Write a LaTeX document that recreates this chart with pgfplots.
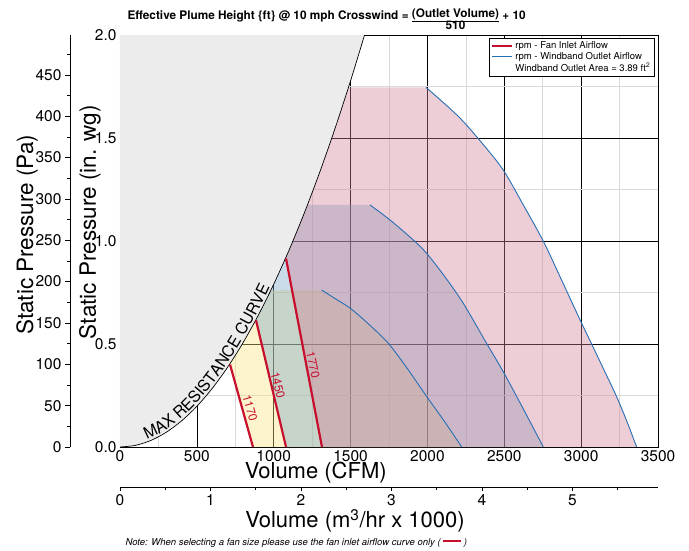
\documentclass[border=0pt]{standalone}
\usepackage{fontspec}
\setmainfont{TeX Gyre Heros}
\usepackage{pgfplots}
\pgfplotsset{compat=1.18}

\definecolor{inletred}{RGB}{200,16,46}
\definecolor{outletblue}{RGB}{38,110,180}
\definecolor{fillA}{RGB}{250,225,127}
\definecolor{fillB}{RGB}{120,165,200}
\definecolor{fillC}{RGB}{210,130,152}
\definecolor{maxgray}{RGB}{236,236,236}

\newcommand{\fs}[1]{\fontsize{#1}{#1}\selectfont}
% one letter of the curve label: angle, volume, pressure, letter
\newcommand{\ml}[4]{\node[rotate=#1, anchor=south, inner xsep=0pt, inner ysep=2pt, font=\fs{16}] at (axis cs:#2,#3) {#4};}

\begin{document}
\begin{tikzpicture}
\useasboundingbox (-120pt,-103pt) rectangle (569pt,447pt);

% Pa scale on the far left
\begin{axis}[
  at={(-50pt,0pt)}, anchor=south west,
  scale only axis, width=10pt, height=412pt,
  xmin=0, xmax=1, ymin=0, ymax=498.18,
  axis x line=none, axis y line*=left,
  ytick={0,50,...,450}, minor ytick={25,75,...,475},
  tick align=outside, major tick length=5pt, minor tick length=3pt,
  tick style={black, line width=0.6pt},
  axis line style={line width=0.8pt},
  yticklabel style={font=\fs{15.5}},
  /pgf/number format/assume math mode=true,
  ylabel={Static Pressure (Pa)},
  ylabel style={font=\fs{22.5}, at={(axis description cs:-4.3,0.515)}, anchor=center},
]
\end{axis}

% main chart
\begin{axis}[
  name=main, at={(0pt,0pt)}, anchor=south west,
  scale only axis, width=538pt, height=412pt,
  xmin=0, xmax=3500, ymin=0, ymax=2,
  xtick={0,500,...,3500}, ytick={0,0.5,1,1.5,2},
  minor xtick={250,750,...,3250}, minor ytick={0.25,0.75,1.25,1.75},
  grid=both,
  major grid style={black, line width=0.7pt},
  minor grid style={gray!30, line width=0.7pt},
  major tick length=0pt, minor tick length=0pt,
  axis line style={black, line width=0.8pt},
  ticklabel style={font=\fs{15.5}},
  /pgf/number format/assume math mode=true,
  /pgf/number format/1000 sep={},
  y tick label style={/pgf/number format/.cd, fixed, fixed zerofill, precision=1},
  xlabel={Volume (CFM)},
  xlabel style={font=\fs{22}, at={(axis description cs:0.364,-0.061)}, anchor=center},
  ylabel={Static Pressure (in. wg)},
  ylabel style={font=\fs{22.5}, at={(axis description cs:-0.0558,0.546)}, anchor=center},
  legend style={at={(0.9926,0.9927)}, anchor=north east, draw=black, fill=white,
    font=\fs{9.5}, inner sep=1.5pt, row sep=-2pt, cells={anchor=west}},
  legend image code/.code={\draw[#1] (0pt,0pt) -- (20pt,0pt);},
]
% windband outlet areas (1170, 1450, 1770 rpm)
\addplot[fill=fillA, fill opacity=0.4, draw=none, forget plot] coordinates {
  (865,0) (716,0.40) (716,0.762) (1312,0.762) (1400,0.72) (1499,0.673) (1620,0.595)
  (1746,0.503) (1870,0.38) (1996,0.244) (2110,0.125) (2223,0)} \closedcycle;
\addplot[fill=fillB, fill opacity=0.4, draw=none, forget plot] coordinates {
  (1080,0) (885,0.615) (885,1.175) (1627,1.175) (1760,1.10) (1908,1.005) (1995,0.94)
  (2110,0.83) (2233,0.698) (2385,0.503) (2493,0.366) (2620,0.19) (2754,0)} \closedcycle;
\addplot[fill=fillC, fill opacity=0.4, draw=none, forget plot] coordinates {
  (1314,0) (1080,0.915) (1080,1.746) (1991,1.746) (2201,1.605) (2350,1.48) (2493,1.345)
  (2620,1.18) (2754,0.999) (2870,0.815) (2993,0.617) (3069,0.499) (3150,0.372)
  (3231,0.244) (3300,0.12) (3361,0)} \closedcycle;

% region beyond max resistance
\addplot[fill=maxgray, draw=none, forget plot] coordinates {
  (0,0) (100,0.0079) (200,0.0316) (300,0.0711) (400,0.1264) (500,0.1975) (600,0.2844)
  (700,0.3871) (800,0.5057) (900,0.64) (1000,0.7901) (1100,0.956) (1200,1.1377)
  (1300,1.3353) (1400,1.5486) (1500,1.7777) (1591,2) (0,2)} -- cycle;
\addplot[black, line width=0.7pt, smooth, forget plot] coordinates {
  (0,0) (100,0.0079) (200,0.0316) (300,0.0711) (400,0.1264) (500,0.1975) (600,0.2844)
  (700,0.3871) (800,0.5057) (900,0.64) (1000,0.7901) (1100,0.956) (1200,1.1377)
  (1300,1.3353) (1400,1.5486) (1500,1.7777) (1591,2)};
\ml{25.0}{220.5}{0.0384}{M}
\ml{31.5}{289.5}{0.0662}{A}
\ml{36.2}{346}{0.0946}{X}
\ml{42.0}{424.5}{0.1424}{R}
\ml{45.3}{476.9}{0.1797}{E}
\ml{48.0}{524.4}{0.2173}{S}
\ml{49.7}{556.5}{0.2447}{I}
\ml{51.3}{588.5}{0.2736}{S}
\ml{53.1}{628.7}{0.3123}{T}
\ml{54.7}{667.7}{0.3522}{A}
\ml{56.3}{709.2}{0.3974}{N}
\ml{57.8}{749.1}{0.4434}{C}
\ml{59.1}{787.5}{0.4900}{E}
\ml{60.6}{838}{0.5549}{C}
\ml{61.6}{874.4}{0.6041}{U}
\ml{62.6}{910.1}{0.6544}{R}
\ml{63.4}{942.2}{0.7014}{V}
\ml{64.1}{973.1}{0.7482}{E}

% windband outlet airflow
\addplot[outletblue, line width=0.9pt, smooth, forget plot] coordinates {
  (1312,0.762) (1400,0.72) (1499,0.673) (1620,0.595) (1746,0.503) (1870,0.38)
  (1996,0.244) (2110,0.125) (2223,0)};
\addplot[outletblue, line width=0.9pt, smooth, forget plot] coordinates {
  (1627,1.175) (1760,1.10) (1908,1.005) (1995,0.94) (2110,0.83) (2233,0.698)
  (2385,0.503) (2493,0.366) (2620,0.19) (2754,0)};
\addplot[outletblue, line width=0.9pt, smooth, forget plot] coordinates {
  (1991,1.746) (2201,1.605) (2350,1.48) (2493,1.345) (2620,1.18) (2754,0.999)
  (2870,0.815) (2993,0.617) (3069,0.499) (3150,0.372) (3231,0.244) (3300,0.12) (3361,0)};

% fan inlet airflow
\addplot[inletred, line width=2.2pt, forget plot] coordinates {(716,0.40) (865,0)};
\addplot[inletred, line width=2.2pt, forget plot] coordinates {(885,0.615) (1080,0)};
\addplot[inletred, line width=2.2pt, forget plot] coordinates {(1080,0.915) (1314,0)};
\node[inletred, rotate=-74, font=\fs{12}] at (axis cs:846,0.189) {1170};
\node[inletred, rotate=-76, font=\fs{12}] at (axis cs:1028,0.301) {1450};
\node[inletred, rotate=-78, font=\fs{12}] at (axis cs:1256,0.398) {1770};

\addlegendimage{inletred, line width=2.5pt}
\addlegendentry{rpm - Fan Inlet Airflow}
\addlegendimage{outletblue, line width=1pt}
\addlegendentry{rpm - Windband Outlet Airflow}
\addlegendimage{draw opacity=0}
\addlegendentry{Windband Outlet Area = 3.89 ft\textsuperscript{2}}
\end{axis}

% metric volume scale
\begin{axis}[
  at={(0pt,-40pt)}, anchor=south west,
  scale only axis, width=538pt, height=10pt,
  xmin=0, xmax=5.9465, ymin=0, ymax=1,
  axis y line=none, axis x line*=bottom,
  xtick={0,1,...,5}, minor xtick={0.5,1.5,...,5.5},
  tick align=outside, major tick length=4pt, minor tick length=3pt,
  tick style={black, line width=0.6pt},
  axis line style={line width=0.8pt},
  xticklabel style={font=\fs{15.5}},
  /pgf/number format/assume math mode=true,
  xlabel={Volume (m\textsuperscript{3}/hr x 1000)},
  xlabel style={font=\fs{22}, at={(axis description cs:0.4368,-3.4)}, anchor=center},
]
\end{axis}

\node[anchor=base west, font=\bfseries\fs{11.8}] at (4pt,427.5pt)
  {Effective Plume Height \{ft\} @ 10 mph Crosswind = \begin{tabular}[t]{@{}c@{}}\raisebox{2pt}{\underline{(Outlet Volume)}}\\[-2pt]510\end{tabular} + 10};
\node[anchor=base west, font=\itshape\fs{9.5}] at (2pt,-98pt)
  {Note: When selecting a fan size please use the fan inlet airflow curve only ( \textcolor{inletred}{\rule[0.3em]{18pt}{2.4pt}} )};
\end{tikzpicture}
\end{document}
